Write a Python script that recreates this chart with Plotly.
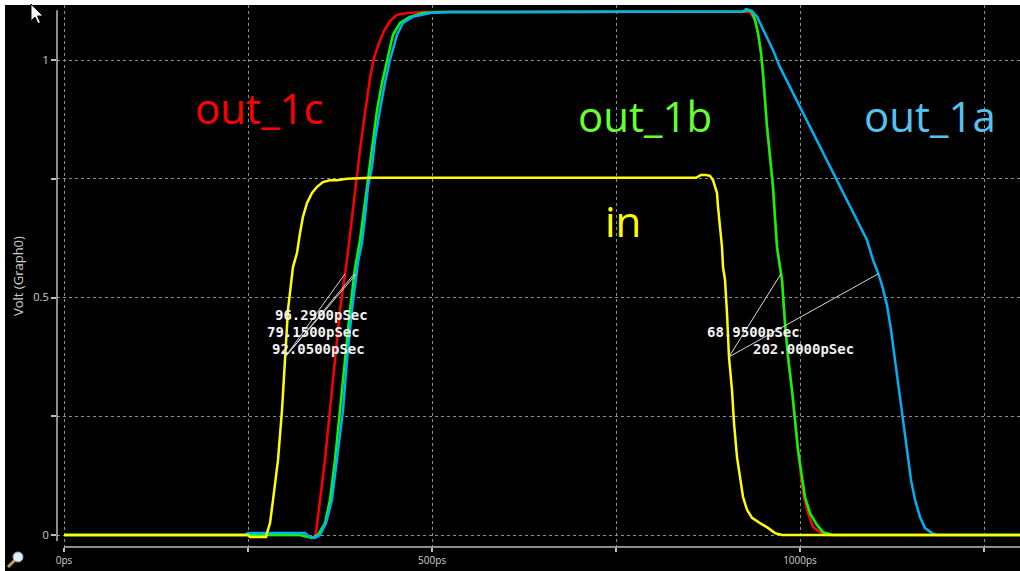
import plotly.graph_objects as go

# ---------------- data (time in ps, voltage in V) ----------------
t_in = [0, 250.0, 252.7, 274.5, 275.8, 279.9, 284.0, 290.8, 296.2, 300.3, 304.3, 311.1, 316.6,
        320.7, 324.7, 330.2, 337.0, 343.8, 351.9, 361.4, 370.9, 384.5, 415.8, 858.7, 865.5,
        872.3, 877.7, 881.8, 887.2, 888.6, 891.3, 894.0, 895.4, 898.1, 900.8, 903.5, 907.6,
        910.3, 914.4, 918.5, 922.6, 928.0, 934.8, 945.7, 956.5, 966.0, 975.5, 1300]
v_in = [0, 0, -0.004, -0.004, 0.004, 0.025, 0.074, 0.158, 0.263, 0.368, 0.474, 0.564, 0.594,
        0.636, 0.670, 0.699, 0.720, 0.733, 0.743, 0.747, 0.747, 0.750, 0.752, 0.752, 0.758,
        0.758, 0.756, 0.747, 0.720, 0.691, 0.648, 0.606, 0.564, 0.537, 0.467, 0.375, 0.305,
        0.236, 0.164, 0.116, 0.080, 0.053, 0.036, 0.025, 0.015, 0.004, 0, 0]

t_1c = [0, 327.4, 334.2, 339.7, 342.4, 347.8, 354.6, 361.4, 368.2, 375.0, 384.5, 388.6, 392.7,
        398.1, 402.2, 406.3, 411.7, 415.8, 421.2, 428.0, 434.8, 442.9, 452.4, 466.0, 487.8,
        929.3, 932.1, 938.9, 942.9, 947.0, 949.7, 952.4, 955.2, 959.2, 963.3, 966.0, 968.8,
        972.8, 975.5, 979.6, 983.7, 989.1, 993.2, 997.3, 1001.4, 1005.4, 1010.9, 1017.7,
        1027.2, 1036.7, 1300]
v_1c = [0, 0, -0.004, -0.006, 0.004, 0.074, 0.158, 0.263, 0.368, 0.474, 0.579, 0.636, 0.691,
        0.754, 0.811, 0.859, 0.916, 0.962, 1.004, 1.036, 1.061, 1.082, 1.095, 1.099, 1.101,
        1.102, 1.101, 1.084, 1.057, 1.015, 0.973, 0.916, 0.859, 0.796, 0.733, 0.669, 0.606,
        0.564, 0.537, 0.446, 0.375, 0.305, 0.236, 0.179, 0.122, 0.080, 0.046, 0.017,
        0.006, 0, 0]

t_1b = [0, 320.7, 330.2, 337.0, 345.1, 354.6, 361.4, 368.2, 375.0, 381.8, 388.6, 395.4, 402.2,
        406.3, 411.7, 415.8, 419.8, 425.3, 432.1, 438.9, 447.0, 456.5, 470.1, 487.8, 510.9,
        922.6, 929.3, 934.8, 938.9, 942.9, 947.0, 949.7, 952.4, 955.2, 959.2, 963.3, 966.0,
        968.8, 972.8, 975.5, 979.6, 983.7, 989.1, 993.2, 997.3, 1002.7, 1006.8, 1013.6,
        1023.1, 1031.3, 1044.8, 1300]
v_1b = [0, 0, -0.004, -0.006, 0, 0.025, 0.074, 0.158, 0.263, 0.368, 0.474, 0.562, 0.621,
        0.669, 0.733, 0.779, 0.832, 0.895, 0.952, 1.000, 1.053, 1.078, 1.091, 1.099, 1.101,
        1.102, 1.105, 1.101, 1.084, 1.057, 1.015, 0.973, 0.916, 0.859, 0.796, 0.733, 0.669,
        0.606, 0.564, 0.537, 0.446, 0.375, 0.305, 0.236, 0.179, 0.122, 0.080, 0.046,
        0.021, 0.006, 0, 0]

t_1a = [0, 245.0, 250.0, 327.4, 334.2, 341.0, 347.8, 356.0, 364.1, 370.9, 379.1, 384.5, 391.3,
        399.5, 404.9, 409.0, 413.0, 418.5, 422.6, 429.3, 436.1, 442.9, 452.4, 460.6, 474.2,
        497.3, 524.5, 922.6, 926.6, 932.1, 934.8, 941.6, 948.4, 955.2, 963.3, 972.8, 986.4,
        1000.0, 1017.7, 1036.7, 1050.3, 1063.9, 1077.4, 1091.0, 1099.2, 1106.0, 1111.4,
        1118.2, 1123.6, 1129.1, 1134.5, 1139.9, 1145.4, 1150.8, 1156.3, 1163.0, 1169.8,
        1179.3, 1186.1, 1300]
v_1a = [0, 0, 0.004, 0.004, -0.004, -0.006, 0, 0.025, 0.074, 0.158, 0.263, 0.368, 0.474,
        0.575, 0.615, 0.669, 0.733, 0.775, 0.832, 0.895, 0.952, 1.000, 1.053, 1.078, 1.091,
        1.099, 1.101, 1.102, 1.107, 1.105, 1.103, 1.091, 1.069, 1.048, 1.021, 0.985, 0.943,
        0.901, 0.846, 0.789, 0.747, 0.705, 0.663, 0.621, 0.579, 0.552, 0.526,
        0.484, 0.432, 0.368, 0.299, 0.232, 0.168, 0.116, 0.074, 0.038, 0.015,
        0.004, 0, 0]

x_tickvals = [0, 250, 500, 750, 1000, 1250]
x_ticktext = ["0ps", "", "500ps", "", "1000ps", ""]
y_tickvals = [0, 0.25, 0.5, 0.75, 1]
y_ticktext = ["0", "", "0.5", "", "1"]

rise_delays = ["96.2900pSec", "79.1500pSec", "92.0500pSec"]
fall_delays = ["68.9500pSec", "202.0000pSec"]

# --------------------------------------------------------------
def crossing(t, v, level, t_start, rising=True):
    for i in range(len(t) - 1):
        if t[i] < t_start:
            continue
        a, b = v[i], v[i + 1]
        if (rising and a < level <= b) or ((not rising) and a > level >= b):
            return t[i] + (level - a) * (t[i + 1] - t[i]) / (b - a)
    return None

RED, GREEN, CYAN, YELLOW = "#ff0000", "#00ff00", "#00b0f0", "#ffff00"

fig = go.Figure()
for t, v, c, n in [(t_1c, v_1c, RED, "out_1c"), (t_1b, v_1b, GREEN, "out_1b"),
                   (t_1a, v_1a, CYAN, "out_1a"), (t_in, v_in, YELLOW, "in")]:
    fig.add_trace(go.Scatter(x=t, y=v, mode="lines", name=n,
                             line=dict(color=c, width=2.5), hoverinfo="skip"))

X0, X1 = -9.51, 1298.9
Y0, Y1 = -0.02526, 1.11579

shapes = []
annotations = []

# measurement lines
in_r = crossing(t_in, v_in, 0.375, 0, True)
in_f = crossing(t_in, v_in, 0.375, 800, False)
for t, v in [(t_1a, v_1a), (t_1c, v_1c), (t_1b, v_1b)]:
    te = crossing(t, v, 0.55, 0, True)
    shapes.append(dict(type="line", xref="x", yref="y", x0=in_r, y0=0.375, x1=te, y1=0.55,
                       line=dict(color="#d8d8d8", width=1)))
for t, v in [(t_1b, v_1b), (t_1a, v_1a)]:
    te = crossing(t, v, 0.55, 900, False)
    shapes.append(dict(type="line", xref="x", yref="y", x0=in_f, y0=0.375, x1=te, y1=0.55,
                       line=dict(color="#d8d8d8", width=1)))

lab_font = dict(family="DejaVu Sans Mono", size=14, color="#f2f2f2", weight="bold")
for txt, x, y in zip(rise_delays, [349.2, 339.0, 345.8], [0.463, 0.427, 0.392]):
    annotations.append(dict(text=txt, x=x, y=y, xref="x", yref="y", showarrow=False, font=lab_font))
for txt, x, y in zip(fall_delays, [936.8, 1004.8], [0.427, 0.392]):
    annotations.append(dict(text=txt, x=x, y=y, xref="x", yref="y", showarrow=False, font=lab_font))

# big signal labels
big = [("out_1c", 265.0, 0.899, "#ff0000"), ("out_1b", 789.4, 0.884, "#66ff33"),
       ("out_1a", 1176.6, 0.884, "#55c3ef"), ("in", 759.5, 0.663, "#ffff00")]
for txt, x, y, c in big:
    annotations.append(dict(text=txt, x=x, y=y, xref="x", yref="y", showarrow=False,
                            font=dict(family="Open Sans", size=42, color=c)))

# y-axis title
annotations.append(dict(text="Volt (Graph0)", x=-0.0405, y=0.5, xref="paper", yref="paper",
                        xanchor="center", yanchor="middle",
                        showarrow=False, textangle=-90,
                        font=dict(family="Open Sans", size=13, color="#d0d0d0")))

# axis lines (offset style)
shapes.append(dict(type="line", xref="x", yref="paper", x0=0, x1=X1, y0=0, y1=0,
                   line=dict(color="#bdbdbd", width=1.5)))
shapes.append(dict(type="line", xref="paper", yref="y", x0=0, x1=0, y0=-0.0126, y1=1.105,
                   line=dict(color="#bdbdbd", width=1.5)))

# window border strips
shapes.append(dict(type="rect", xref="paper", yref="paper", x0=-0.06, x1=1.0, y0=1.0, y1=1.02,
                   fillcolor="white", line=dict(width=0)))
shapes.append(dict(type="rect", xref="paper", yref="paper", x0=-0.06, x1=-0.0540, y0=-0.05, y1=1.02,
                   fillcolor="white", line=dict(width=0)))

# mouse cursor
shapes.append(dict(type="path", xref="paper", yref="paper", xsizemode="pixel", ysizemode="pixel",
                   xanchor=-0.0270, yanchor=1.0018,
                   path="M 0,0 L 0,-17 L 4,-13 L 7,-19.5 L 9.5,-18.5 L 6.5,-12 L 12,-12 Z",
                   fillcolor="white", line=dict(color="black", width=1)))
# magnifier icon
shapes.append(dict(type="line", xref="paper", yref="paper", xsizemode="pixel", ysizemode="pixel",
                   xanchor=-0.0405, yanchor=-0.0185, x0=-3, y0=-3, x1=-10, y1=-10,
                   line=dict(color="#c89a5a", width=3)))
shapes.append(dict(type="circle", xref="paper", yref="paper", xsizemode="pixel", ysizemode="pixel",
                   xanchor=-0.0405, yanchor=-0.0185, x0=-5, x1=5, y0=-5, y1=5,
                   fillcolor="#e4eefa", line=dict(color="#8aa6c8", width=1)))

tick_font = dict(family="Open Sans", size=10, color="#d0d0d0")
fig.update_layout(
    width=1020, height=571,
    margin=dict(l=57, r=0, t=5, b=24),
    paper_bgcolor="black", plot_bgcolor="black",
    showlegend=False,
    xaxis=dict(range=[X0, X1], tickvals=x_tickvals, ticktext=x_ticktext,
               ticks="outside", ticklen=4, tickcolor="#bdbdbd", tickwidth=1.5,
               showgrid=True, gridcolor="#8c8c8c", griddash="dot", gridwidth=1,
               zeroline=False, showline=False, tickfont=tick_font, fixedrange=True),
    yaxis=dict(range=[Y0, Y1], tickvals=y_tickvals, ticktext=y_ticktext,
               ticks="outside", ticklen=5, tickcolor="#bdbdbd", tickwidth=1.5,
               showgrid=True, gridcolor="#8c8c8c", griddash="dot", gridwidth=1,
               zeroline=False, showline=False, tickfont=dict(family="Open Sans", size=11, color="#d0d0d0"),
               fixedrange=True),
    shapes=shapes,
    annotations=annotations,
)

fig.write_html("out.html")
